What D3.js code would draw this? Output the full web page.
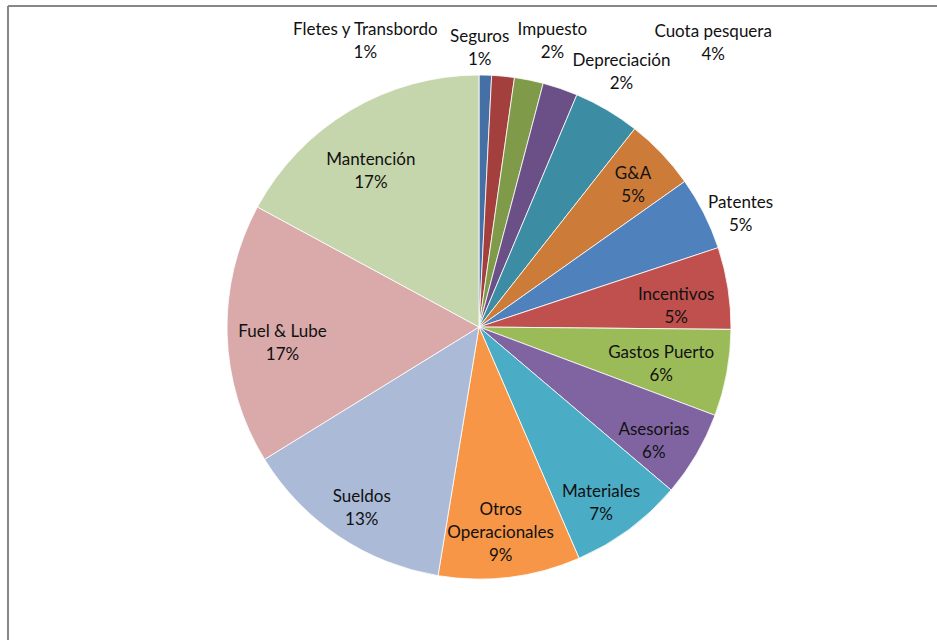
<!DOCTYPE html>
<html>
<head>
<meta charset="utf-8">
<script src="https://cdn.jsdelivr.net/npm/d3@7/dist/d3.min.js"></script>
<style>
  body { margin: 0; background: #fff; }
  svg { display: block; }
</style>
</head>
<body>
<svg id="chart" width="937" height="640"></svg>
<script>
// categories, clockwise from 12 o'clock
var categories = ["Fletes y Transbordo", "Seguros", "Impuesto", "Depreciación", "Cuota pesquera",
    "G&A", "Patentes", "Incentivos", "Gastos Puerto", "Asesorias", "Materiales",
    "Otros Operacionales", "Sueldos", "Fuel & Lube", "Mantención"];

// share of total cost (%)
var values = [0.8, 1.45, 1.85, 2.25, 4.25, 4.6, 4.7, 5.25, 5.55, 5.5, 7.3, 9.1, 13.6, 16.7, 17.1];

// percentages as printed on the chart
var pctLabels = ["1%", "1%", "2%", "2%", "4%", "5%", "5%", "5%", "6%", "6%", "7%", "9%", "13%", "17%", "17%"];

var colors = ["#4470a6", "#a3403d", "#7f9a48", "#6a5086", "#3c8da3", "#cc7b38", "#4f81bd",
    "#c0504d", "#9bbb59", "#8064a2", "#4bacc6", "#f79646", "#aabad7", "#d9aaa9", "#c6d6ac"];

// label text lines (split where the chart wraps)
var labelLines = [["Fletes y Transbordo"], ["Seguros"], ["Impuesto"], ["Depreciación"], ["Cuota pesquera"],
    ["G&A"], ["Patentes"], ["Incentivos"], ["Gastos Puerto"], ["Asesorias"], ["Materiales"],
    ["Otros", "Operacionales"], ["Sueldos"], ["Fuel & Lube"], ["Mantención"]];

// small slices get their label outside the pie
var outside = [true, true, true, true, true, false, true, false, false, false, false, false, false, false, false];

// hand nudges so labels sit where the original layout put them
var nudge = [[-121, 3], [-27, 9], [16, -2], [49, 19], [87, -35], [8, -4], [3, 17], [-2, 10],
    [-16, 0], [1, 11], [2, 14], [-3, 5], [-5, 13], [5, 10], [-5, 17]];

var svg = d3.select("#chart");
var cx = 479, cy = 327, radius = 252;

// frame lines (top and left edge of the chart area)
svg.append("line").attr("x1", 8).attr("y1", 6).attr("x2", 937).attr("y2", 6)
    .attr("stroke", "#878787").attr("stroke-width", 2);
svg.append("line").attr("x1", 8).attr("y1", 6).attr("x2", 8).attr("y2", 640)
    .attr("stroke", "#878787").attr("stroke-width", 2);

var data = categories.map(function(c, i) {
    return { name: c, value: values[i], pct: pctLabels[i], color: colors[i],
        lines: labelLines[i], outside: outside[i], nudge: nudge[i] };
});

var pie = d3.pie().sort(null).value(function(d) { return d.value; });
var arcs = pie(data);

var arc = d3.arc().innerRadius(0).outerRadius(radius);
var inArc = d3.arc().innerRadius(radius * 0.8).outerRadius(radius * 0.8);
var outArc = d3.arc().innerRadius(radius * 1.15).outerRadius(radius * 1.15);

var g = svg.append("g").attr("transform", "translate(" + cx + "," + cy + ")");

g.selectAll("path.slice")
    .data(arcs)
    .enter().append("path")
    .attr("class", "slice")
    .attr("d", arc)
    .attr("fill", function(d) { return d.data.color; })
    .attr("stroke", "#ffffff")
    .attr("stroke-width", 0.8);

var lineH = 23;

var labels = g.selectAll("text.label")
    .data(arcs)
    .enter().append("text")
    .attr("class", "label")
    .attr("text-anchor", "middle")
    .style("font-family", "Lato, 'Open Sans', sans-serif")
    .style("font-size", "17px")
    .attr("fill", "#111111")
    .attr("transform", function(d) {
        var c = d.data.outside ? outArc.centroid(d) : inArc.centroid(d);
        return "translate(" + (c[0] + d.data.nudge[0]) + "," + (c[1] + d.data.nudge[1]) + ")";
    });

labels.each(function(d) {
    var lines = d.data.lines.concat([d.data.pct]);
    var n = lines.length;
    var t = d3.select(this);
    lines.forEach(function(s, i) {
        t.append("tspan")
            .attr("x", 0)
            .attr("y", (i - (n - 1) / 2) * lineH)
            .attr("dy", "0.35em")
            .text(s);
    });
});
</script>
</body>
</html>
